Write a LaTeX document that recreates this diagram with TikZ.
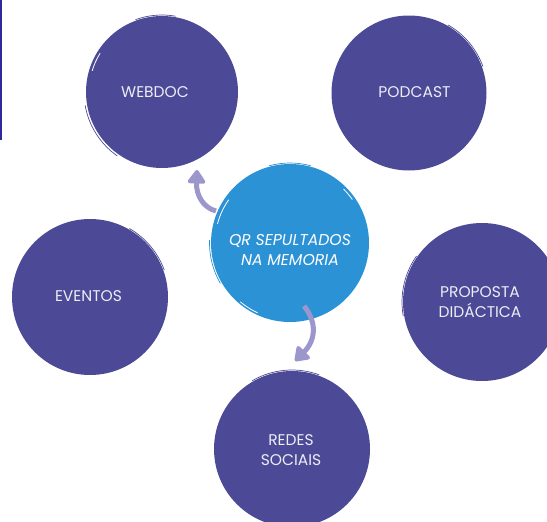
\documentclass[tikz,border=0pt]{standalone}
\usepackage{fontspec}
\setmainfont{Poppins}
\usetikzlibrary{arrows.meta}
\definecolor{disc}{HTML}{4C4A96}
\definecolor{hub}{HTML}{2B92D6}
\definecolor{bar}{HTML}{2E2A9C}
\definecolor{arrowc}{HTML}{9B97CC}
\tikzset{
  x=1pt,y=-1pt,
  topic/.style={circle,fill=disc,draw=none,inner sep=0pt},
  hubnode/.style={circle,fill=hub,draw=none,inner sep=0pt},
  topiclabel/.style={inner sep=0pt,text=white!90!disc,align=center,font=\fontsize{15.5}{20}\selectfont},
  hublabel/.style={inner sep=0pt,text=white,align=center,font=\fontsize{15.7}{20}\selectfont\itshape},
  flow/.style={draw=arrowc,line width=5pt,-{Triangle[length=15pt,width=20pt,round]}},
  brushw/.style={draw=white,line width=0.8pt,line cap=round},
  brushd/.style={line width=0.7pt,line cap=round}
}
\begin{document}
\begin{tikzpicture}
\useasboundingbox (0,0) rectangle (547,522);
\begin{scope}
\clip (0,0) rectangle (547,522);
\fill[bar] (0,0) rectangle (2,140);
\node[topic,minimum size=152pt] (webdoc) at (162,92) {};
\node[topic,minimum size=155pt] (podcast) at (409,93) {};
\node[topic,minimum size=156pt] (eventos) at (90,297) {};
\node[topic,minimum size=158pt] (proposta) at (482,302) {};
\node[topic,minimum size=156pt] (redes) at (292,449) {};
\node[hubnode,minimum size=158pt] (hub) at (290,243) {};
\node[topiclabel] (webdoctext) at (155,92.5) {WEBDOC};
\node[topiclabel] (podcasttext) at (414.5,92.5) {PODCAST};
\node[topiclabel] (eventostext) at (88.5,296.5) {EVENTOS};
\node[topiclabel] (propostatext) at (480,302) {PROPOSTA\\DIDÁCTICA};
\node[topiclabel] (redestext) at (291,450) {REDES\\SOCIAIS};
\node[hublabel] (hubtext) at (290,250) {QR SEPULTADOS\\NA MEMORIA};
% brush fringe
\draw[brushd,draw=disc] (webdoc.center) ++(170:78) arc[start angle=170,end angle=125,radius=78];
\draw[brushd,draw=disc] (webdoc.center) ++(250:77) arc[start angle=250,end angle=280,radius=77];
\draw[brushw] (webdoc.center) ++(197:73) arc[start angle=197,end angle=212,radius=73];
\draw[brushd,draw=disc] (podcast.center) ++(-60:78.5) arc[start angle=-60,end angle=-20,radius=78.5];
\draw[brushd,draw=disc] (eventos.center) ++(-60:79) arc[start angle=-60,end angle=-20,radius=79];
\draw[brushd,draw=disc] (proposta.center) ++(170:80) arc[start angle=170,end angle=215,radius=80];
\draw[brushd,draw=disc] (redes.center) ++(-120:79) arc[start angle=-120,end angle=-70,radius=79];
\draw[brushw] (hub.center) ++(195:75) arc[start angle=195,end angle=215,radius=75];
\draw[brushw] (hub.center) ++(115:77) arc[start angle=115,end angle=130,radius=77];
\draw[brushw] (hub.center) ++(-45:76) arc[start angle=-45,end angle=-35,radius=76];
\draw[brushd,draw=hub] (hub.center) ++(150:80.5) arc[start angle=150,end angle=182,radius=80.5];
\draw[brushd,draw=hub] (hub.center) ++(255:80) arc[start angle=255,end angle=285,radius=80];
% connectors
\coordinate (upstart) at (216,211);
\coordinate (upend) at (197,170);
\coordinate (downstart) at (304,306);
\coordinate (downend) at (295,361);
\draw[flow] (upstart) .. controls (204,208) and (196,196) .. (upend);
\draw[flow] (downstart) .. controls (317,322) and (316,340) .. (downend);
\end{scope}
\end{tikzpicture}
\end{document}
